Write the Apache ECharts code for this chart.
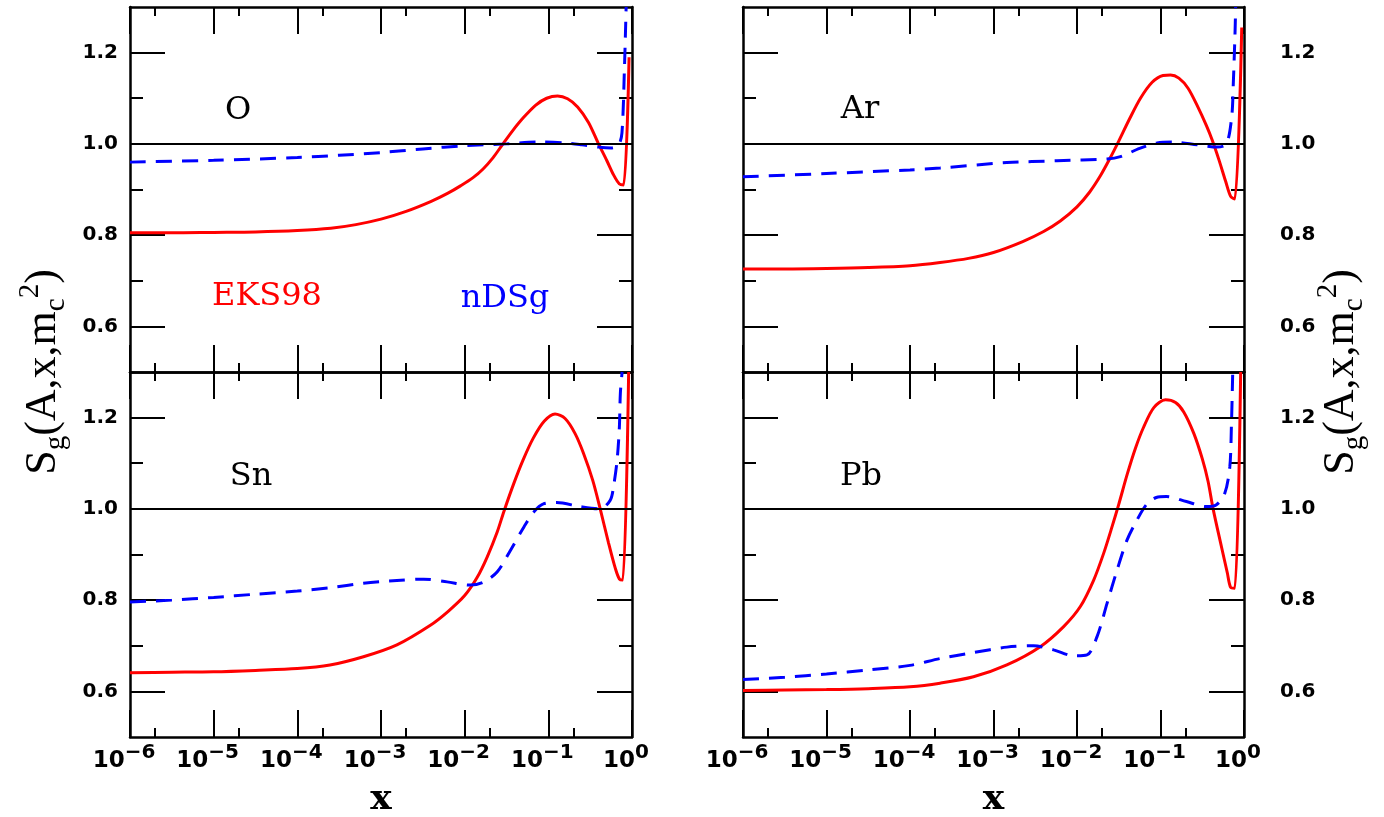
<!DOCTYPE html>
<html>
<head>
<meta charset="utf-8">
<script src="https://cdn.jsdelivr.net/npm/echarts@6/dist/echarts.min.js"></script>
<style>
  html, body { margin: 0; padding: 0; background: #fff; }
  #main { width: 1384px; height: 817px; }
</style>
</head>
<body>
<div id="main"></div>
<script type="text/javascript">
// x values are stored as log10(x); y is S_g(A,x,m_c^2)
var O_eks = [[-6,0.805],[-5.5,0.805],[-5,0.806],[-4.5,0.807],[-4,0.81],[-3.6,0.815],[-3.3,0.823],[-3.0,0.835],[-2.7,0.852],[-2.4,0.874],[-2.2,0.892],[-2.05,0.908],[-1.9,0.926],[-1.78,0.945],[-1.66,0.97],[-1.55,0.998],[-1.43,1.028],[-1.3,1.057],[-1.15,1.085],[-1.02,1.1],[-0.89,1.105],[-0.77,1.099],[-0.65,1.081],[-0.52,1.047],[-0.4,1.0],[-0.3,0.963],[-0.22,0.932],[-0.15,0.912],[-0.1,0.91],[-0.035,1.19]];
var O_nds = [[-6,0.96],[-5,0.964],[-4,0.97],[-3.5,0.975],[-3,0.981],[-2.5,0.989],[-2,0.996],[-1.5,1.0],[-1.1,1.004],[-0.8,1.002],[-0.6,0.998],[-0.4,0.993],[-0.25,0.991],[-0.16,0.998],[-0.12,1.024],[-0.09,1.168],[-0.07,1.3]];

var Ar_eks = [[-6,0.726],[-5.5,0.726],[-5,0.727],[-4.5,0.729],[-4,0.733],[-3.64,0.74],[-3.3,0.749],[-3.0,0.762],[-2.65,0.786],[-2.4,0.808],[-2.2,0.831],[-2.0,0.862],[-1.85,0.894],[-1.72,0.93],[-1.6,0.97],[-1.5,1.006],[-1.37,1.055],[-1.24,1.1],[-1.1,1.135],[-0.97,1.15],[-0.88,1.151],[-0.78,1.144],[-0.67,1.122],[-0.55,1.08],[-0.45,1.04],[-0.38,1.008],[-0.3,0.965],[-0.22,0.918],[-0.16,0.885],[-0.11,0.879],[-0.027,1.255]];
var Ar_nds = [[-6,0.928],[-5,0.935],[-4,0.943],[-3.64,0.947],[-2.84,0.959],[-2.24,0.963],[-1.64,0.967],[-1.48,0.972],[-1.25,0.99],[-1.04,1.002],[-0.85,1.004],[-0.56,0.998],[-0.32,0.993],[-0.21,1.0],[-0.147,1.06],[-0.128,1.133],[-0.108,1.24],[-0.1,1.3]];

var Sn_eks = [[-6,0.641],[-5.5,0.642],[-5,0.643],[-4.5,0.646],[-4,0.65],[-3.61,0.658],[-3.21,0.676],[-2.81,0.702],[-2.41,0.745],[-2.2,0.775],[-2.0,0.81],[-1.85,0.85],[-1.73,0.895],[-1.61,0.95],[-1.53,0.995],[-1.41,1.057],[-1.3,1.108],[-1.18,1.155],[-1.05,1.192],[-0.92,1.208],[-0.8,1.198],[-0.68,1.165],[-0.58,1.122],[-0.47,1.063],[-0.38,1.0],[-0.28,0.925],[-0.2,0.87],[-0.15,0.846],[-0.11,0.844],[-0.04,1.3]];
var Sn_nds = [[-6,0.796],[-5.5,0.8],[-5,0.806],[-4.5,0.813],[-4,0.82],[-3.61,0.827],[-3.21,0.837],[-2.81,0.843],[-2.49,0.846],[-2.21,0.84],[-1.93,0.833],[-1.77,0.84],[-1.61,0.862],[-1.45,0.91],[-1.29,0.961],[-1.17,0.994],[-1.06,1.011],[-0.9,1.014],[-0.62,1.005],[-0.38,1.0],[-0.26,1.019],[-0.22,1.05],[-0.178,1.107],[-0.151,1.179],[-0.139,1.254],[-0.118,1.3]];

var Pb_eks = [[-6,0.602],[-5.5,0.603],[-5,0.604],[-4.5,0.606],[-4,0.61],[-3.64,0.618],[-3.24,0.632],[-2.84,0.658],[-2.44,0.698],[-2.16,0.742],[-1.96,0.786],[-1.8,0.844],[-1.68,0.903],[-1.58,0.961],[-1.5,1.01],[-1.4,1.075],[-1.3,1.133],[-1.2,1.18],[-1.08,1.222],[-0.94,1.239],[-0.82,1.233],[-0.72,1.212],[-0.6,1.165],[-0.5,1.11],[-0.43,1.06],[-0.37,1.0],[-0.27,0.917],[-0.2,0.86],[-0.16,0.828],[-0.11,0.826],[-0.04,1.3]];
var Pb_nds = [[-6,0.626],[-5.5,0.631],[-5,0.638],[-4.5,0.647],[-4,0.657],[-3.64,0.672],[-3.24,0.685],[-2.84,0.697],[-2.52,0.7],[-2.28,0.691],[-2.04,0.678],[-1.88,0.68],[-1.76,0.72],[-1.64,0.793],[-1.52,0.866],[-1.4,0.932],[-1.28,0.976],[-1.17,1.009],[-1.05,1.025],[-0.93,1.027],[-0.69,1.016],[-0.45,1.005],[-0.33,1.009],[-0.23,1.034],[-0.17,1.092],[-0.15,1.187],[-0.14,1.26],[-0.135,1.3]];

var panelNames = ['O', 'Ar', 'Sn', 'Pb'];
var eksData = [O_eks, Ar_eks, Sn_eks, Pb_eks];
var ndsData = [O_nds, Ar_nds, Sn_nds, Pb_nds];

// tick positions
var yMajor = [0.6, 0.8, 1.0, 1.2];
var yMinor = [0.7, 0.9, 1.1];
var xMinor = [2e-6, 2e-5, 2e-4, 2e-3, 2e-2, 2e-1].map(Math.log10);

var grids = [
    {left: 130, top: 7, width: 502, height: 365},
    {left: 743, top: 7, width: 501, height: 365},
    {left: 130, top: 372, width: 502, height: 365},
    {left: 743, top: 372, width: 501, height: 365},
    // spans all panels, only carries the two y titles
    {left: 130, top: 7, width: 1114, height: 730}
];

var BLACK = '#000';

function powLabel(v) {
    var e = Math.round(v);
    return '{b|10}{s|' + (e < 0 ? '\u2212' + (-e) : e) + '}';
}
var powRich = {
    b: {fontFamily: 'DejaVu Sans', fontWeight: 'bold', fontSize: 23, lineHeight: 24, color: BLACK},
    s: {fontFamily: 'DejaVu Sans', fontWeight: 'bold', fontSize: 20, lineHeight: 20, padding: [0, 12, 16, 0], color: BLACK}
};

// a dash longer than the tick keeps it solid
function tickStyle(len) {
    return {color: BLACK, width: 2, type: [len + 10, 1]};
}

var xAxes = [], yAxes = [], xMainIdx = [], yMainIdx = [];
for (var g = 0; g < 4; g++) {
    var bottomRow = g >= 2;
    var leftCol = g % 2 === 0;
    ['bottom', 'top'].forEach(function (pos) {
        if (pos === 'bottom') xMainIdx.push(xAxes.length);
        var showLab = pos === 'bottom' && bottomRow;
        xAxes.push({
            type: 'value', gridIndex: g, position: pos, min: -6, max: 0, interval: 1,
            name: showLab ? 'x' : '', nameLocation: 'middle', nameGap: 43,
            nameTextStyle: {fontFamily: 'DejaVu Serif', fontWeight: 'bold', fontSize: 36, lineHeight: 40, color: BLACK},
            axisLine: {show: true, onZero: false, lineStyle: {color: BLACK, width: 2.5}},
            axisTick: {show: true, inside: true, length: 27, lineStyle: tickStyle(27)},
            splitLine: {show: false},
            axisLabel: {
                show: showLab, margin: 12, interval: 0,
                showMinLabel: true, showMaxLabel: true,
                formatter: powLabel, rich: powRich
            }
        });
        xAxes.push({
            type: 'value', gridIndex: g, position: pos, min: -6, max: 0,
            axisLine: {show: false, onZero: false},
            axisTick: {show: true, inside: true, length: 9, customValues: xMinor, lineStyle: tickStyle(9)},
            splitLine: {show: false},
            axisLabel: {show: false}
        });
    });
    ['left', 'right'].forEach(function (pos) {
        var showLab = (pos === 'left') === leftCol;
        if (pos === 'left') yMainIdx.push(yAxes.length);
        yAxes.push({
            type: 'value', gridIndex: g, position: pos, min: 0.5, max: 1.3,
            axisLine: {show: true, onZero: false, lineStyle: {color: BLACK, width: 2.5}},
            axisTick: {show: true, inside: true, length: 35, customValues: yMajor, lineStyle: tickStyle(35)},
            splitLine: {show: false},
            axisLabel: {
                show: showLab, customValues: yMajor, margin: pos === 'left' ? 12 : 36,
                fontFamily: 'DejaVu Sans', fontWeight: 'bold', fontSize: 20, color: BLACK,
                formatter: function (v) { return v.toFixed(1); }
            }
        });
        yAxes.push({
            type: 'value', gridIndex: g, position: pos, min: 0.5, max: 1.3,
            axisLine: {show: false, onZero: false},
            axisTick: {show: true, inside: true, length: 13, customValues: yMinor, lineStyle: tickStyle(13)},
            splitLine: {show: false},
            axisLabel: {show: false}
        });
    });
}

// y titles on the full-height grid
var titleRich = {
    m: {fontFamily: 'Liberation Serif', fontSize: 44, lineHeight: 46, color: BLACK},
    sub: {fontFamily: 'Liberation Serif', fontSize: 29, lineHeight: 28, padding: [26, 0, 0, 0], color: BLACK},
    sup: {fontFamily: 'Liberation Serif', fontSize: 29, lineHeight: 28, padding: [0, 0, 26, 0], color: BLACK}
};
var yTitle = '{m|S}{sub|g}{m|(A,x,m}{sub|c}{sup|2}{m|)}';
xAxes.push({type: 'value', gridIndex: 4, min: 0, max: 1, show: false});
['left', 'right'].forEach(function (pos) {
    yAxes.push({
        type: 'value', gridIndex: 4, position: pos, min: 0, max: 1,
        name: yTitle, nameLocation: 'middle', nameRotate: 90, nameGap: pos === 'left' ? 64 : 74,
        nameTextStyle: {rich: titleRich},
        axisLine: {show: false, onZero: false}, axisTick: {show: false},
        axisLabel: {show: false}, splitLine: {show: false}
    });
});

var series = [];
for (var p = 0; p < 4; p++) {
    series.push({
        name: 'EKS98 ' + panelNames[p], type: 'line', xAxisIndex: xMainIdx[p], yAxisIndex: yMainIdx[p],
        data: eksData[p], showSymbol: false, smooth: 0.3,
        lineStyle: {color: '#ff0000', width: 3},
        markLine: {
            silent: true, symbol: 'none', label: {show: false},
            lineStyle: {color: BLACK, width: 2, type: 'solid'},
            data: [{yAxis: 1.0}]
        }
    });
    series.push({
        name: 'nDSg ' + panelNames[p], type: 'line', xAxisIndex: xMainIdx[p], yAxisIndex: yMainIdx[p],
        data: ndsData[p], showSymbol: false, smooth: 0.3,
        lineStyle: {color: '#0000ff', width: 3, type: [16, 10]}
    });
}

// panel captions
function caption(txt, x, y, color) {
    return {
        text: txt, left: x, top: y, padding: 0,
        textAlign: 'center', textVerticalAlign: 'middle',
        textStyle: {fontFamily: 'DejaVu Serif', fontWeight: 'normal', fontSize: 32, color: color}
    };
}

var myChart = echarts.init(document.getElementById('main'));
var option = {
    animation: false,
    title: [
        caption('O', 238, 111, BLACK),
        caption('Ar', 860, 110, BLACK),
        caption('Sn', 251, 477, BLACK),
        caption('Pb', 861, 477, BLACK),
        caption('EKS98', 267, 297, '#ff0000'),
        caption('nDSg', 505, 299, '#0000ff')
    ],
    grid: grids.map(function (r) {
        return {left: r.left, top: r.top, width: r.width, height: r.height, containLabel: false, outerBoundsMode: 'none'};
    }),
    xAxis: xAxes,
    yAxis: yAxes,
    series: series
};
myChart.setOption(option);
</script>
</body>
</html>
